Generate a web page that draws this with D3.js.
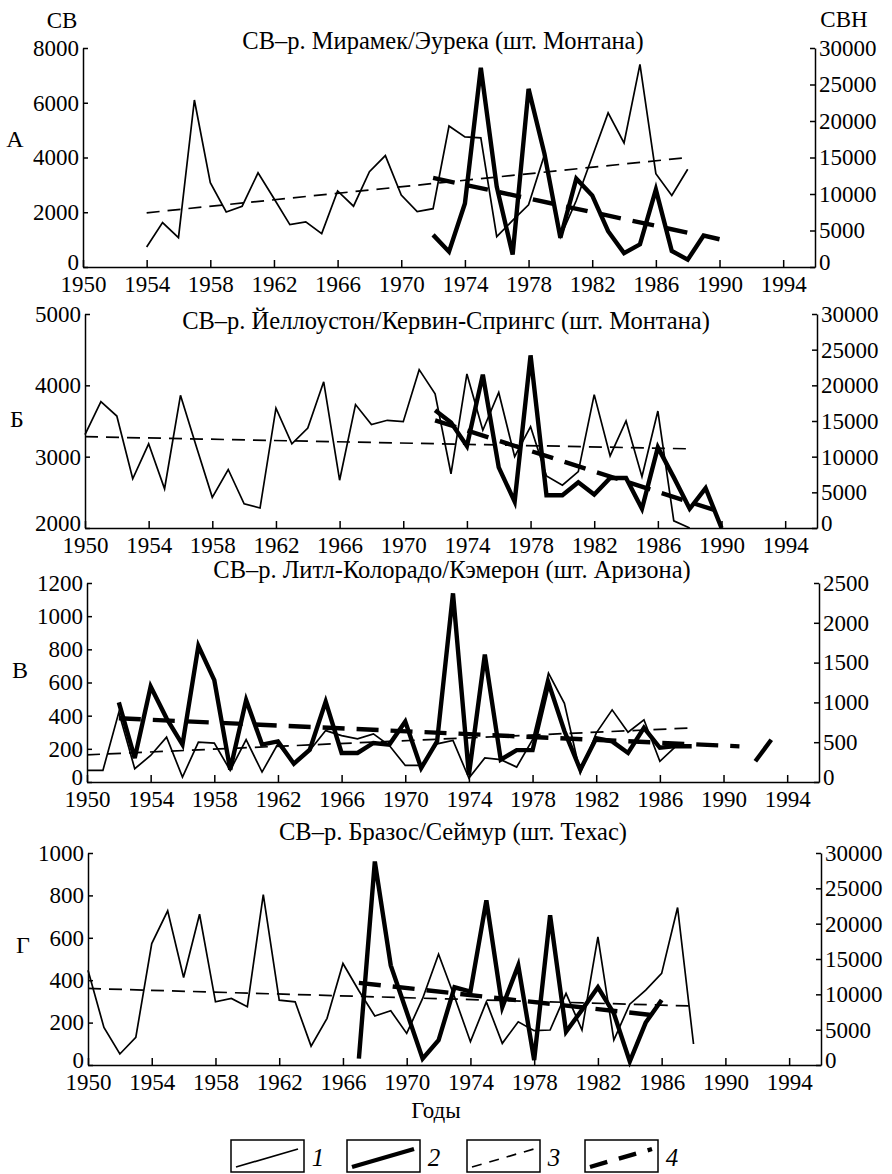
<!DOCTYPE html>
<html>
<head>
<meta charset="utf-8">
<script src="https://cdn.jsdelivr.net/npm/d3@7"></script>
<style>
  body { margin: 0; background: #fff; }
  svg text { font-family: "Liberation Serif", "DejaVu Serif", serif; fill: #000; }
</style>
</head>
<body>
<div id="chart"></div>
<script>
// данные: годы и значения (1 - СВ, левая ось; 2 - СВН, правая ось; 3, 4 - тренды)
const xTicks = [1950, 1954, 1958, 1962, 1966, 1970, 1974, 1978, 1982, 1986, 1990, 1994];

// А - Мирамек/Эурека
const yearsA1 = d3.range(1954, 1989);
const cbA = [730, 1620, 1070, 6100, 3080, 2010, 2220, 3440, 2500, 1550, 1650, 1220, 2780, 2220, 3480, 4070,
  2630, 2020, 2130, 5150, 4750, 4720, 1110, 1700, 2270, 4100, 1100, 2430, 4030, 5630, 4530, 7400, 3410, 2610, 3570];
const yearsA2 = d3.range(1972, 1991);
const cbnA = [4400, 2100, 8700, 27300, 11000, 1700, 24400, 15500, 4000, 12100, 9800, 4900, 1900, 3100,
  10600, 2200, 1000, 4300, 3800];
const trendA1 = [[1954, 1980], [1988, 4000]];
const trendA2 = [[1972, 12200], [1988, 4700]];
const leftTicksA = [0, 2000, 4000, 6000, 8000];
const rightTicksA = [0, 5000, 10000, 15000, 20000, 25000, 30000];

// Б - Йеллоустон/Кервин-Спрингс
const yearsB1 = d3.range(1950, 1989);
const cbB = [3310, 3770, 3570, 2690, 3180, 2550, 3860, 3140, 2430, 2820, 2340, 2280, 3680, 3180, 3400, 4050,
  2670, 3730, 3450, 3510, 3490, 4220, 3880, 2760, 4160, 3370, 3900, 3000, 3420, 2730, 2600, 2790, 3870,
  3010, 3500, 2720, 3640, 2100, 2000];
const yearsB2 = d3.range(1972, 1991);
const cbnB = [16500, 14800, 11500, 21500, 8500, 3700, 24200, 4600, 4600, 6400, 4700, 7000, 7000, 2700,
  11300, 7100, 2700, 5600, 0];
const trendB1 = [[1950, 3280], [1988, 3110]];
const trendB2 = [[1972, 15100], [1990, 2200]];
const leftTicksB = [2000, 3000, 4000, 5000];
const rightTicksB = [0, 5000, 10000, 15000, 20000, 25000, 30000];

// В - Литл-Колорадо/Кэмерон
const yearsC1 = d3.range(1950, 1988);
const cbC = [70, 70, 420, 80, 160, 270, 30, 240, 235, 70, 255, 60, 230, 110, 190, 310, 280, 260, 290, 220,
  100, 100, 230, 250, 24, 145, 135, 90, 255, 657, 475, 54, 295, 435, 300, 375, 125, 215];
const yearsC2 = d3.range(1952, 1989);
const cbnC = [1000, 300, 1200, 800, 470, 1710, 1280, 155, 1030, 470, 510, 230, 405, 1010, 365, 365, 490, 470,
  760, 175, 510, 2370, 90, 1600, 280, 400, 400, 1245, 640, 155, 550, 510, 365, 680, 430, 450, 450];
const extraC2 = [[1992, 260], [1993, 530]];
const trendC1 = [[1950, 164], [1988, 326]];
const trendC2 = [[1952, 800], [1991, 448]];
const leftTicksC = [0, 200, 400, 600, 800, 1000, 1200];
const rightTicksC = [0, 500, 1000, 1500, 2000, 2500];

// Г - Бразос/Сеймур
const yearsD1 = d3.range(1950, 1989);
const cbD = [447, 177, 52, 130, 573, 727, 413, 711, 298, 314, 275, 804, 306, 298, 89, 220, 479, 350, 231, 256,
  149, 314, 523, 322, 110, 298, 102, 204, 162, 165, 338, 165, 604, 118, 287, 353, 432, 743, 99];
const yearsD2 = d3.range(1967, 1987);
const cbnD = [900, 28800, 14100, 7500, 900, 3500, 11000, 10400, 23300, 8200, 14100, 700, 21200, 4700, 7800,
  11000, 7300, 500, 6000, 9200];
const trendD1 = [[1950, 361], [1988, 278]];
const trendD2 = [[1967, 11630], [1986, 6920]];
const leftTicksD = [0, 200, 400, 600, 800, 1000];
const rightTicksD = [0, 5000, 10000, 15000, 20000, 25000, 30000];

const titles = [
  "СВ–р. Мирамек/Эурека (шт. Монтана)",
  "СВ–р. Йеллоустон/Кервин-Спрингс (шт. Монтана)",
  "СВ–р. Литл-Колорадо/Кэмерон (шт. Аризона)",
  "СВ–р. Бразос/Сеймур (шт. Техас)"
];
const panelLetters = ["А", "Б", "В", "Г"];
const legendLabels = ["1", "2", "3", "4"];

// размеры
const width = 892, height = 1174;
const tickFont = 23;

const svg = d3.select("#chart").append("svg")
  .attr("width", width)
  .attr("height", height);

svg.append("rect").attr("width", width).attr("height", height).attr("fill", "#fff");

// стили линий
const styles = {
  thin: { w: 1.7, dash: null },
  thick: { w: 4.4, dash: null },
  thinDash: { w: 1.7, dash: "13 8" },
  thickDash: { w: 4.4, dash: "22 12" }
};

function zip(years, vals) {
  return years.map((y, i) => [y, vals[i]]);
}

function drawPanel(p) {
  const g = svg.append("g");
  const x = d3.scaleLinear().domain([1950, 1996]).range([p.left, p.right]);
  const yL = d3.scaleLinear().domain(p.leftDomain).range([p.bottom, p.top]);
  const yR = d3.scaleLinear().domain(p.rightDomain).range([p.bottom, p.top]);

  // оси
  const ax = g.append("g")
    .attr("transform", `translate(0, ${p.bottom})`)
    .call(d3.axisBottom(x).tickValues(xTicks).tickFormat(d3.format("d"))
      .tickSizeInner(-7).tickSizeOuter(0).tickPadding(9));
  const al = g.append("g")
    .attr("transform", `translate(${p.left}, 0)`)
    .call(d3.axisLeft(yL).tickValues(p.leftTicks).tickFormat(d3.format("d"))
      .tickSizeInner(-5).tickSizeOuter(0).tickPadding(4));
  const ar = g.append("g")
    .attr("transform", `translate(${p.right}, 0)`)
    .call(d3.axisRight(yR).tickValues(p.rightTicks).tickFormat(d3.format("d"))
      .tickSizeInner(-5).tickSizeOuter(0).tickPadding(4));
  [ax, al, ar].forEach(a => {
    a.attr("font-size", tickFont).attr("font-family", null);
    a.selectAll("path, line").attr("stroke", "#000").attr("stroke-width", 1.5);
  });
  // нижний ноль чуть выше, чтобы не налезал на годы
  al.selectAll(".tick text").filter(d => d === p.leftDomain[0]).attr("dy", "0.12em");
  ar.selectAll(".tick text").filter(d => d === 0).attr("dy", "0.12em");

  const lineL = d3.line().x(d => x(d[0])).y(d => yL(d[1]));
  const lineR = d3.line().x(d => x(d[0])).y(d => yR(d[1]));

  function path(d, fn, st) {
    g.append("path")
      .attr("d", fn(d))
      .attr("fill", "none")
      .attr("stroke", "#000")
      .attr("stroke-width", st.w)
      .attr("stroke-linejoin", "miter")
      .attr("stroke-dasharray", st.dash);
  }

  path(p.trend1, lineL, styles.thinDash);
  path(p.trend2, lineR, styles.thickDash);
  path(p.s1, lineL, styles.thin);
  path(p.s2, lineR, styles.thick);
  if (p.extra) path(p.extra, lineR, styles.thick);

  // заголовок и буква
  g.append("text")
    .attr("x", p.titleX).attr("y", p.titleY)
    .attr("text-anchor", "middle")
    .attr("font-size", 24.5)
    .text(p.title);
  g.append("text")
    .attr("x", p.letterX).attr("y", p.letterY)
    .attr("text-anchor", "middle")
    .attr("font-size", 24)
    .text(p.letter);
}

const panels = [
  { left: 83, right: 815, top: 48, bottom: 267, leftDomain: [0, 8000], rightDomain: [0, 30000],
    leftTicks: leftTicksA, rightTicks: rightTicksA, s1: zip(yearsA1, cbA), s2: zip(yearsA2, cbnA),
    trend1: trendA1, trend2: trendA2, title: titles[0], titleX: 443, titleY: 49,
    letter: panelLetters[0], letterX: 15, letterY: 147 },
  { left: 85, right: 817, top: 314, bottom: 528, leftDomain: [2000, 5000], rightDomain: [0, 30000],
    leftTicks: leftTicksB, rightTicks: rightTicksB, s1: zip(yearsB1, cbB), s2: zip(yearsB2, cbnB),
    trend1: trendB1, trend2: trendB2, title: titles[1], titleX: 446, titleY: 329,
    letter: panelLetters[1], letterX: 17, letterY: 427 },
  { left: 87, right: 819, top: 583, bottom: 782, leftDomain: [0, 1200], rightDomain: [0, 2500],
    leftTicks: leftTicksC, rightTicks: rightTicksC, s1: zip(yearsC1, cbC), s2: zip(yearsC2, cbnC),
    extra: extraC2, trend1: trendC1, trend2: trendC2, title: titles[2], titleX: 452, titleY: 578,
    letter: panelLetters[2], letterX: 20, letterY: 678 },
  { left: 88, right: 821, top: 853, bottom: 1065, leftDomain: [0, 1000], rightDomain: [0, 30000],
    leftTicks: leftTicksD, rightTicks: rightTicksD, s1: zip(yearsD1, cbD), s2: zip(yearsD2, cbnD),
    trend1: trendD1, trend2: trendD2, title: titles[3], titleX: 453, titleY: 840,
    letter: panelLetters[3], letterX: 23, letterY: 953 }
];

panels.forEach(drawPanel);

// подписи осей
svg.append("text").attr("x", 62).attr("y", 28).attr("text-anchor", "middle")
  .attr("font-size", 23).text("СВ");
svg.append("text").attr("x", 844).attr("y", 27).attr("text-anchor", "middle")
  .attr("font-size", 23).text("СВН");
svg.append("text").attr("x", 436).attr("y", 1118).attr("text-anchor", "middle")
  .attr("font-size", 23).text("Годы");

// легенда
const legendX = [231, 347, 467, 585];
const legendStyle = [styles.thin, styles.thick, styles.thinDash, styles.thickDash];
const lg = svg.append("g").attr("transform", "translate(0, 1140)");
legendLabels.forEach((lab, i) => {
  const bx = legendX[i];
  lg.append("rect")
    .attr("x", bx).attr("y", 0).attr("width", 73).attr("height", 32)
    .attr("fill", "none").attr("stroke", "#000").attr("stroke-width", 1.5);
  lg.append("line")
    .attr("x1", bx + 5).attr("y1", 27).attr("x2", bx + 67).attr("y2", 9)
    .attr("stroke", "#000")
    .attr("stroke-width", legendStyle[i].w)
    .attr("stroke-dasharray", legendStyle[i].dash ? (i === 2 ? "10 8" : "18 12") : null);
  lg.append("text")
    .attr("x", bx + 87).attr("y", 26)
    .attr("text-anchor", "middle")
    .attr("font-size", 25)
    .attr("font-style", "italic")
    .text(lab);
});
</script>
</body>
</html>
